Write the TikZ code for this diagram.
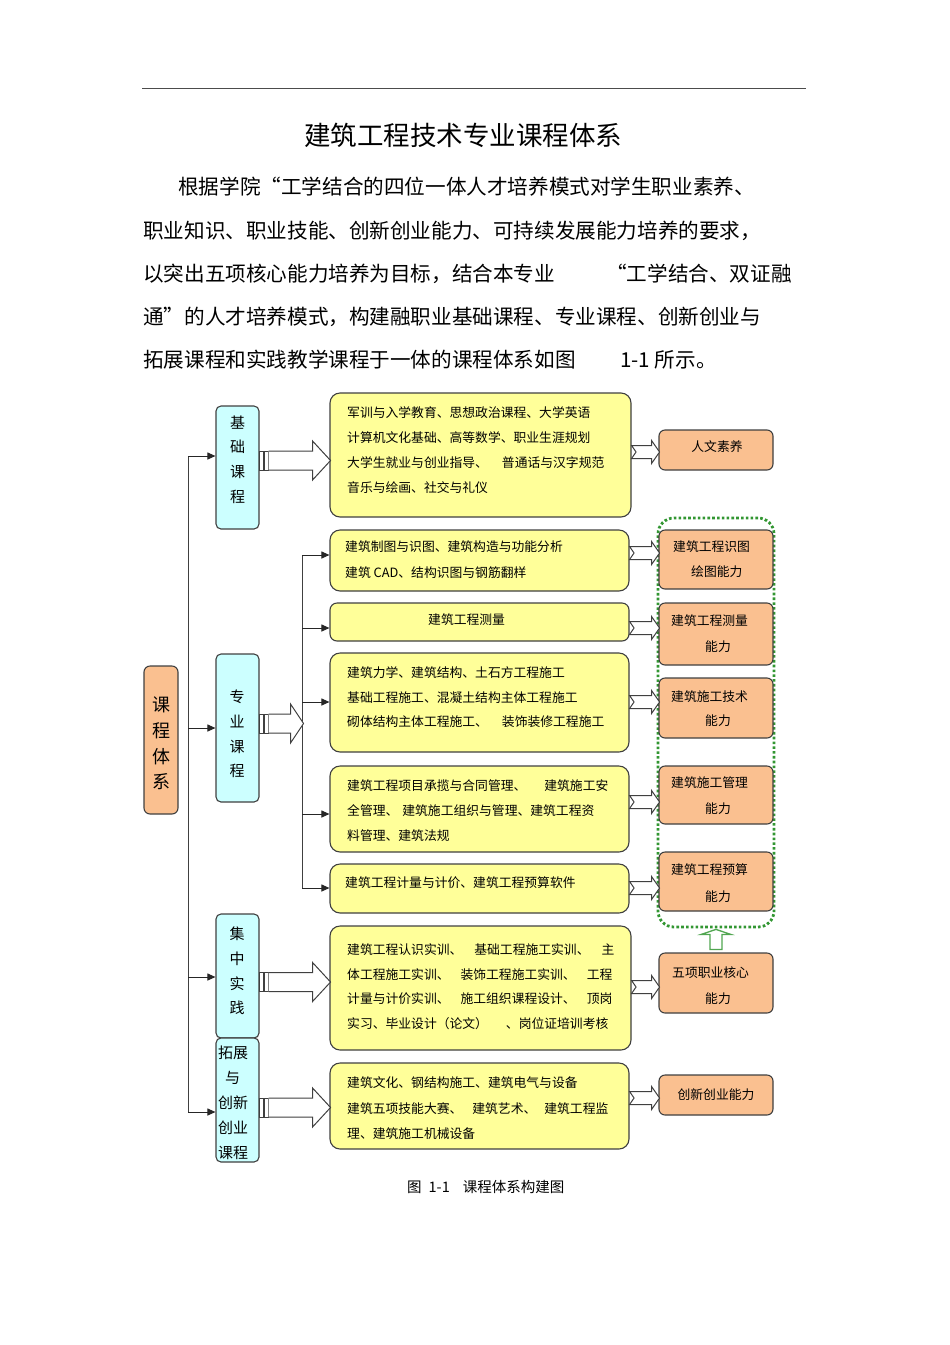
\documentclass[tikz,border=0pt]{standalone}
\usepackage{fontspec}
\setmainfont{Noto Sans CJK SC}
\usetikzlibrary{arrows.meta,calc}
\definecolor{yelc}{RGB}{255,255,153}
\definecolor{bluc}{RGB}{204,255,255}
\definecolor{orgc}{RGB}{250,192,144}
\definecolor{bord}{RGB}{64,64,64}
\definecolor{grn}{RGB}{50,150,50}
\tikzset{
 barr/.style={draw=bord, line width=1pt, fill=white},
 pics/bigarr/.style 2 args={code={
  \draw[barr] (0,-9.5) rectangle (3.5,9.5);
  \draw[barr] (4.5,-9.5) rectangle (9,9.5);
  \draw[barr] (9,-9.5) -- ({#1-#2},-9.5) -- ({#1-#2},-19.5) -- (#1,0) -- ({#1-#2},19.5) -- ({#1-#2},9.5) -- (9,9.5);
 }},
 pics/smarr/.style={code={
  \draw[barr] (0,-6.5) -- ({#1-8},-6.5) -- ({#1-8},-11.5) -- (#1,0) -- ({#1-8},11.5) -- ({#1-8},6.5) -- (0,6.5) -- (4.5,0) -- cycle;
 }},
}
\begin{document}
\begin{tikzpicture}[x=1pt,y=-1pt,
 box/.style={draw=bord, line width=1.1pt, inner sep=0pt},
 yel/.style={box, fill=yelc, rounded corners=10pt},
 blu/.style={box, fill=bluc, rounded corners=5pt},
 org/.style={box, fill=orgc, rounded corners=6pt},
 bt/.style={font=\fontsize{12.8pt}{15pt}\selectfont, inner sep=0pt, anchor=west, text height=11.26pt, text depth=1.54pt},
 btc/.style={bt, anchor=center},
 para/.style={font=\fontsize{20.6pt}{24pt}\selectfont, inner sep=0pt, anchor=west, text height=18.13pt, text depth=2.47pt},
 vt/.style={font=\fontsize{15pt}{24.8pt}\selectfont, inner sep=0pt, align=center},
 arr/.style={draw=black!85, line width=1pt, -{Triangle[length=8pt,width=7pt]}},
 ln/.style={draw=black!75, line width=1pt},
]
\useasboundingbox (0,0) rectangle (950,1345);

% header
\coordinate (hl) at (142,88);
\coordinate (hr) at (806,88);
\draw[draw=black!70, line width=1pt] (hl) -- (hr);
\node[font=\fontsize{26.5pt}{30pt}\selectfont, inner sep=0pt] (title) at (463,135.5) {建筑工程技术专业课程体系};

\node[para] (p1) at (178,187) {根据学院“工学结合的四位一体人才培养模式对学生职业素养、};
\node[para] (p2) at (143,231) {职业知识、职业技能、创新创业能力、可持续发展能力培养的要求，};
\node[para] (p3a) at (143,274) {以突出五项核心能力培养为目标，结合本专业};
\node[para] (p3b) at (606,274) {“工学结合、双证融};
\node[para] (p4) at (143,317) {通”的人才培养模式，构建融职业基础课程、专业课程、创新创业与};
\node[para] (p5a) at (143,360) {拓展课程和实践教学课程于一体的课程体系如图};
\node[para] (p5b) at (620,360) {1-1 所示。};

% left root
\node[org, minimum width=34pt, minimum height=148pt] (root) at (161,740) {};
\node[font=\fontsize{18pt}{25.7pt}\selectfont, inner sep=0pt, align=center] (roott) at (161,743.5) {课\\程\\体\\系};

% blue boxes
\node[blu, minimum width=43pt, minimum height=123pt] (B1) at (237.5,467.5) {};
\node[blu, minimum width=43pt, minimum height=148pt] (B2) at (237.5,728) {};
\node[blu, minimum width=43pt, minimum height=124pt] (B3) at (237.5,976) {};
\node[blu, minimum width=43pt, minimum height=124pt] (B4) at (237.5,1100) {};
\node[vt] (B1t) at (237.5,459.5) {基\\础\\课\\程};
\node[vt] (B2t) at (237,734) {专\\业\\课\\程};
\node[vt] (B3t) at (237,971) {集\\中\\实\\践};
\node[vt, align=left, font=\fontsize{15pt}{25pt}\selectfont] (B4t) at (233,1103) {拓展\\\hspace{7pt}与\\创新\\创业\\课程};

% spine
\coordinate (s1) at (188,456);
\coordinate (s2) at (188,728);
\coordinate (s3) at (188,977);
\coordinate (s4) at (188,1112);
\draw[ln] (s1) -- (s4);
\draw[arr] (s1) -- (s1 -| B1.west);
\draw[arr] (s2) -- (s2 -| B2.west);
\draw[arr] (s3) -- (s3 -| B3.west);
\draw[arr] (s4) -- (s4 -| B4.west);

% yellow boxes
\node[yel, minimum width=301pt, minimum height=124pt] (Y1) at (480.5,455) {};
\node[yel, minimum width=299pt, minimum height=61pt] (Y2) at (479.5,560.5) {};
\node[yel, minimum width=299pt, minimum height=38pt, rounded corners=7pt] (Y3) at (479.5,622) {};
\node[yel, minimum width=299pt, minimum height=99pt] (Y4) at (479.5,702.5) {};
\node[yel, minimum width=299pt, minimum height=86pt] (Y5) at (479.5,809) {};
\node[yel, minimum width=299pt, minimum height=49pt] (Y6) at (479.5,888.5) {};
\node[yel, minimum width=301pt, minimum height=124pt] (Y7) at (480.5,988) {};
\node[yel, minimum width=299pt, minimum height=86pt] (Y8) at (479.5,1106) {};

% sub spine
\coordinate (q1) at (302,555);
\coordinate (q2) at (302,628);
\coordinate (q3) at (302,702);
\coordinate (q4) at (302,814);
\coordinate (q5) at (302,888);
\draw[ln] (q1) -- (q5);
\draw[arr] (q1) -- (q1 -| Y2.west);
\draw[arr] (q2) -- (q2 -| Y3.west);
\draw[arr] (q3) -- (q3 -| Y4.west);
\draw[arr] (q4) -- (q4 -| Y5.west);
\draw[arr] (q5) -- (q5 -| Y6.west);

% big block arrows
\pic at ([yshift=7pt]B1.east) {bigarr={71}{18}};
\pic at ([yshift=4.5pt]B2.east) {bigarr={44}{13}};
\pic at ([yshift=-6pt]B3.east) {bigarr={71}{18}};
\pic at ([yshift=-7.5pt]B4.east) {bigarr={71}{18}};

% yellow texts
\foreach \t [count=\i from 0] in {军训与入学教育、思想政治课程、大学英语,计算机文化基础、高等数学、职业生涯规划,大学生就业与创业指导、\hspace{14pt}普通话与汉字规范,音乐与绘画、社交与礼仪}
  \node[bt] (Y1t\i) at (347,{413+25*\i}) {\t};
\foreach \t [count=\i from 0] in {建筑制图与识图、建筑构造与功能分析,建筑 CAD、结构识图与钢筋翻样}
  \node[bt] (Y2t\i) at (345,{547+26*\i}) {\t};
\node[bt] (Y3t) at (428,620) {建筑工程测量};
\foreach \t [count=\i from 0] in {建筑力学、建筑结构、土石方工程施工,基础工程施工、混凝土结构主体工程施工,砌体结构主体工程施工、\hspace{14pt}装饰装修工程施工}
  \node[bt] (Y4t\i) at (347,{673+24.5*\i}) {\t};
\foreach \t [count=\i from 0] in {建筑工程项目承揽与合同管理、\hspace{18pt}建筑施工安,全管理、\hspace{4pt}建筑施工组织与管理、建筑工程资,料管理、建筑法规}
  \node[bt] (Y5t\i) at (347,{786+24.8*\i}) {\t};
\node[bt] (Y6t) at (345,883) {建筑工程计量与计价、建筑工程预算软件};
\foreach \t [count=\i from 0] in {建筑工程认识实训、\hspace{12pt}基础工程施工实训、\hspace{12pt}主,体工程施工实训、\hspace{11pt}装饰工程施工实训、\hspace{11pt}工程,计量与计价实训、\hspace{11pt}施工组织课程设计、\hspace{11pt}顶岗,实习、毕业设计（论文）\hspace{18pt}、岗位证培训考核}
  \node[bt] (Y7t\i) at (347,{950+24.5*\i}) {\t};
\foreach \t [count=\i from 0] in {建筑文化、钢结构施工、建筑电气与设备,建筑五项技能大赛、\hspace{10pt}建筑艺术、\hspace{8pt}建筑工程监,理、建筑施工机械设备}
  \node[bt] (Y8t\i) at (347,{1083+25.5*\i}) {\t};

% green dotted group
\node[draw=grn, line width=2.8pt, dash pattern=on 2.6pt off 2.2pt, rounded corners=16pt, minimum width=116pt, minimum height=409pt, inner sep=0pt] (core) at (716,722.5) {};

% right boxes
\node[org, minimum width=114pt, minimum height=40pt] (R1) at (716,450) {};
\node[org, minimum width=114pt, minimum height=59pt] (R2) at (716,559.5) {};
\node[org, minimum width=114pt, minimum height=62pt] (R3) at (716,634) {};
\node[org, minimum width=114pt, minimum height=60pt] (R4) at (716,708) {};
\node[org, minimum width=114pt, minimum height=58pt] (R5) at (716,795) {};
\node[org, minimum width=114pt, minimum height=59pt] (R6) at (716,881.5) {};
\node[org, minimum width=114pt, minimum height=60pt] (R7) at (716,983) {};
\node[org, minimum width=114pt, minimum height=40pt] (R8) at (716,1095) {};

\node[btc] (R1t) at (717,447) {人文素养};
\node[bt] (R2a) at (673,547) {建筑工程识图};
\node[bt] (R2b) at (691,572) {绘图能力};
\node[bt] (R3a) at (671,621) {建筑工程测量};
\node[bt] (R3b) at (705,647) {能力};
\node[bt] (R4a) at (671,697) {建筑施工技术};
\node[bt] (R4b) at (705,721) {能力};
\node[bt] (R5a) at (671,783) {建筑施工管理};
\node[bt] (R5b) at (705,809) {能力};
\node[bt] (R6a) at (671,870) {建筑工程预算};
\node[bt] (R6b) at (705,897) {能力};
\node[bt] (R7a) at (672,973) {五项职业核心};
\node[bt] (R7b) at (705,999) {能力};
\node[btc] (R8t) at (716,1095) {创新创业能力};

% small arrows
\pic at ([yshift=3pt]Y1.east) {smarr=28};
\pic at ([yshift=7.5pt]Y2.east) {smarr=30};
\pic at ([yshift=-6pt]Y3.east) {smarr=30};
\pic at ([yshift=0.5pt]Y4.east) {smarr=30};
\pic at ([yshift=7pt]Y5.east) {smarr=30};
\pic at ([yshift=0.5pt]Y6.east) {smarr=30};
\pic at ([yshift=1pt]Y7.east) {smarr=28};
\pic at ([yshift=8pt]Y8.east) {smarr=30};

% green up arrow
\draw[draw=grn!85, line width=1.3pt, fill=white]
  ($(R7.north)+(-6,-3)$) -- ($(R7.north)+(-6,-18)$) -- ($(R7.north)+(-15,-18)$) -- ($(core.south)+(0,1)$)
  -- ($(R7.north)+(15,-18)$) -- ($(R7.north)+(6,-18)$) -- ($(R7.north)+(6,-3)$) -- cycle;

% caption
\node[font=\fontsize{14.5pt}{17pt}\selectfont, inner sep=0pt, anchor=west] (cap) at (407,1187) {图\hspace{7pt}1-1\hspace{13pt}课程体系构建图};
\end{tikzpicture}
\end{document}
